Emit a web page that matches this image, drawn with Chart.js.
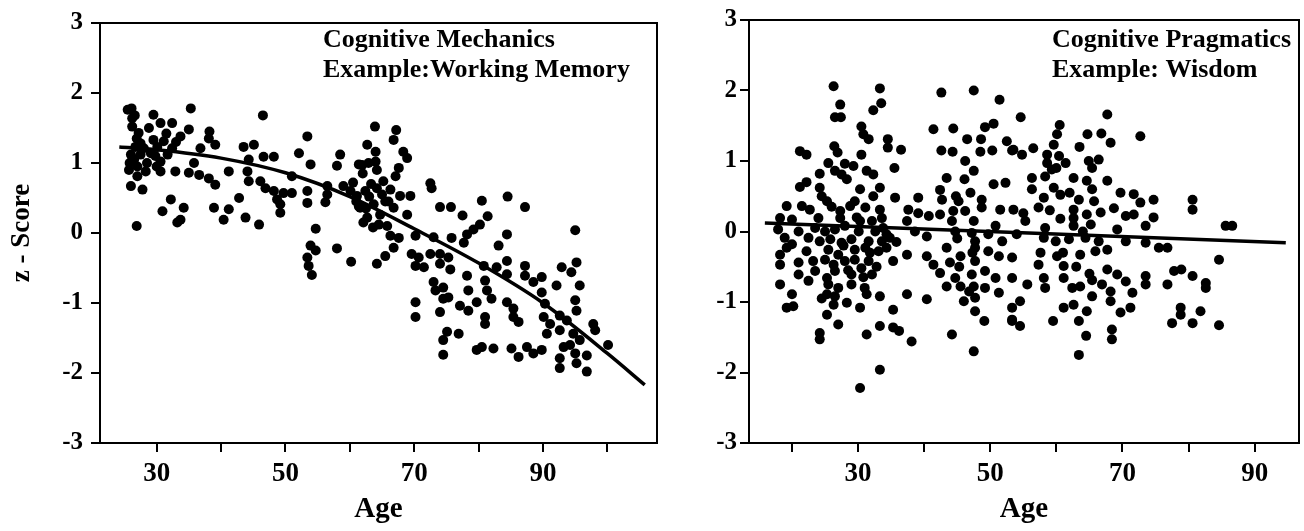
<!DOCTYPE html>
<html>
<head>
<meta charset="utf-8">
<script src="https://cdn.jsdelivr.net/npm/chart.js@4.4.1/dist/chart.umd.min.js"></script>
<style>
  html, body { margin: 0; padding: 0; background: #fff; }
  #wrap { position: relative; width: 1304px; height: 531px; overflow: hidden; }
  .panel { position: absolute; top: 0; height: 531px; }
  #p1 { left: 0; width: 665px; }
  #p2 { left: 665px; width: 639px; }
</style>
</head>
<body>
<div id="wrap">
  <div class="panel" id="p1"><canvas id="mechanics"></canvas></div>
  <div class="panel" id="p2"><canvas id="pragmatics"></canvas></div>
</div>
<script>
// --- Cognitive mechanics (working memory): age / z-score pairs
const mechAge = [
  26.1, 26.6, 29.5, 35.3, 46.5, 30.6, 32.4, 26.2, 28.8, 35.0, 38.2, 33.7, 38.1, 26.9, 53.4, 29.5, 31.1, 39.1, 43.5, 45.1,
  62.7, 26.7, 28.0, 30.1, 32.4, 36.8, 26.0, 27.5, 29.1, 31.7, 52.1, 46.6, 48.2, 58.5, 44.3, 30.6, 35.8, 53.9, 58.0, 61.4,
  62.9, 25.7, 27.0, 30.6, 32.9, 35.0, 36.6, 38.1, 41.2, 44.1, 44.3, 46.1, 51.0, 27.0, 26.0, 27.8, 39.1, 46.9, 48.2, 49.7,
  51.0, 53.4, 56.5, 59.0, 60.1, 61.1, 56.5, 48.7, 32.2, 42.8, 30.9, 34.2, 38.9, 41.2, 49.2, 53.4, 56.2, 61.4, 33.2, 33.7,
  40.4, 43.8, 45.9, 49.2, 54.7, 62.1, 26.9, 53.9, 54.7, 53.4, 53.6, 54.1, 58.0, 60.2, 25.5, 26.2,
  26.5, 27.5, 28.5, 29.8, 31.5, 27.2, 25.8, 28.3, 33.0, 30.0,
  60.5, 62.0, 63.3, 65.0, 66.0, 61.0, 62.5, 64.5, 65.8, 63.0,
  63.9, 67.2, 66.8, 64.0, 68.3, 68.9, 64.0, 64.2, 67.6, 67.1, 61.9, 72.5, 72.7, 65.2, 64.2, 62.4, 66.3, 67.8, 69.4, 65.5,
  63.7, 61.6, 66.8, 74.0, 75.7, 80.5, 84.5, 87.2, 68.9, 62.7, 64.7, 77.5, 81.4, 80.2, 79.2, 78.2, 63.6, 95.0, 84.4, 66.3,
  67.6, 70.2, 73.0, 75.8, 77.7, 83.1, 66.8, 65.5, 64.2, 69.6, 70.7, 72.5, 74.0, 75.3, 74.0, 70.2, 71.5, 75.6, 80.8, 82.8,
  84.4, 84.4, 87.2, 87.2, 88.5, 89.8, 92.9, 95.2, 94.4, 92.1, 95.7, 73.0, 73.3, 74.5, 78.2, 78.4, 81.0, 81.3, 79.7, 82.0,
  84.4, 85.4, 85.4, 86.2, 89.8, 90.3, 95.0, 95.2, 74.5, 75.3, 70.2, 70.2, 74.0, 77.1, 78.4, 81.0, 81.0, 90.1, 91.1, 92.6,
  93.7, 97.8, 98.1, 100.1, 90.6, 92.6, 94.7, 95.7, 75.1, 76.9, 74.5, 74.5, 79.7, 80.5, 82.3, 85.1, 86.2, 87.5, 88.5, 89.8,
  93.2, 92.6, 92.6, 95.0, 95.2, 96.8, 94.2, 96.8
];
const mechScore = [
  1.78, 1.68, 1.69, 1.78, 1.68, 1.57, 1.57, 1.52, 1.50, 1.48, 1.45, 1.38, 1.35, 1.35, 1.38, 1.33, 1.31, 1.26, 1.23, 1.26,
  1.26, 1.23, 1.21, 1.23, 1.21, 1.21, 1.12, 1.12, 1.14, 1.12, 1.14, 1.09, 1.09, 1.12, 1.05, 1.02, 1.00, 0.98, 0.96, 0.98,
  1.00, 0.90, 0.95, 0.88, 0.88, 0.86, 0.83, 0.78, 0.88, 0.88, 0.74, 0.74, 0.81, 0.81, 0.67, 0.62, 0.69, 0.64, 0.60, 0.57,
  0.57, 0.60, 0.67, 0.67, 0.60, 0.53, 0.55, 0.48, 0.48, 0.50, 0.31, 0.36, 0.36, 0.34, 0.41, 0.43, 0.44, 0.38, 0.15, 0.19,
  0.19, 0.22, 0.12, 0.29, 0.06, 0.15, 0.10, -0.18, -0.25, -0.35, -0.47, -0.60, -0.22, -0.41, 1.76, 1.64,
  1.05, 1.28, 1.00, 1.10, 1.42, 1.43, 1.00, 0.88, 1.30, 0.95,
  0.72, 0.85, 0.70, 0.55, 0.45, 0.45, 0.35, 0.12, 0.10, 0.52,
  1.52, 1.47, 1.33, 1.16, 1.16, 1.07, 1.02, 0.90, 0.93, 0.81, 0.97, 0.71, 0.64, 0.74, 0.64, 0.60, 0.62, 0.53, 0.53, 0.45,
  0.41, 0.36, 0.36, 0.37, 0.37, 0.46, 0.52, 0.37, 0.26, 0.22, 0.26, 0.25, 0.24, 0.12, 0.05, -0.02, 0.08, 0.04, -0.02, -0.04,
  -0.07, -0.04, -0.06, -0.07, -0.14, -0.18, -0.21, -0.33, -0.44, -0.30, -0.35, -0.30, -0.30, -0.35, -0.44, -0.47, -0.49, -0.52, -0.47, -0.49,
  -0.40, -0.59, -0.47, -0.61, -0.70, -0.63, -0.49, -0.42, -0.56, -0.75, -0.75, -0.70, -0.82, -0.78, -0.61, -0.82, -0.68, -0.82, -0.99, -0.94,
  -0.99, -1.08, -1.20, -1.27, -0.85, -1.01, -0.96, -1.11, -0.94, -0.92, -0.99, -1.20, -1.13, -1.04, -1.11, -1.20, -1.30, -1.20, -1.30, -1.18,
  -1.25, -1.30, -1.39, -1.60, -1.44, -1.39, -1.44, -1.53, -1.41, -1.44, -1.53, -1.74, -1.67, -1.63, -1.65, -1.65, -1.77, -1.63, -1.72, -1.67,
  -1.63, -1.79, -1.93, -1.72, -1.86, -1.98, -1.60, -1.75
];
// fitted curve, read at these ages
const mechFitAge = [24.2, 30, 40, 50, 60, 70, 80, 90, 100, 105.8];
const mechFitScore = [1.23, 1.19, 1.07, 0.86, 0.52, 0.06, -0.43, -1.0, -1.72, -2.17];

// --- Cognitive pragmatics (wisdom)
const pragAge = [
  26.3, 33.3, 42.6, 47.5, 51.4, 27.3, 33.5, 32.3, 26.5, 27.4, 30.5, 30.8, 31.6, 41.4, 44.4, 49.2, 50.5, 34.5, 34.5, 36.5,
  46.5, 48.6, 52.5, 21.2, 22.2, 26.4, 26.9, 30.5, 42.6, 44.3, 48.5, 50.3, 53.3, 25.5, 28.0, 29.3, 26.5, 27.5, 31.3, 32.3,
  35.5, 46.2, 47.5, 24.2, 43.4, 46.1, 21.2, 22.2, 24.2, 28.3, 30.3, 33.3, 24.5, 25.3, 29.5, 32.3, 35.6, 39.1, 42.4, 42.7,
  45.2, 48.7, 50.5, 52.3, 19.2, 21.5, 22.7, 27.3, 28.8, 31.1, 33.3, 37.6, 39.1, 40.7, 42.4, 44.4, 46.2, 48.7, 51.5, 18.2,
  20.0, 24.0, 27.3, 30.3, 32.1, 33.6, 37.4, 44.2, 47.5, 50.8, 17.9, 21.0, 25.0, 26.5, 28.0, 30.1, 32.6, 34.3, 38.6, 40.4,
  44.7, 47.2, 49.7, 18.9, 20.0, 22.5, 24.2, 25.8, 27.5, 29.0, 31.6, 33.6, 34.8, 47.7, 51.8, 18.2, 19.2, 22.2, 25.5, 27.0,
  29.5, 31.1, 33.1, 34.3, 37.4, 40.4, 43.4, 45.5, 47.7, 49.7, 18.2, 21.0, 23.2, 26.3, 28.0, 29.5, 31.6, 35.3, 41.4, 43.9,
  47.7, 51.3, 21.0, 23.5, 25.3, 26.5, 29.0, 30.5, 32.1, 42.4, 44.7, 47.2, 49.2, 50.8, 18.2, 25.5, 27.0, 29.0, 31.0, 43.4,
  45.5, 47.5, 49.2, 20.0, 25.3, 26.5, 28.3, 31.3, 33.3, 37.4, 40.4, 46.0, 47.7, 51.3, 19.2, 26.3, 25.3, 30.3, 35.3, 47.7,
  53.3, 27.0, 24.2, 24.2, 31.3, 33.3, 35.3, 36.2, 38.1, 44.2, 49.1, 53.3, 47.5, 33.3, 30.3, 20.2,
  23.5, 25.0, 27.8, 29.8, 31.8, 33.8, 26.0, 28.5, 30.8, 22.5, 24.5, 32.8, 35.8,
  44.8, 45.0, 45.3, 47.0, 47.3, 46.8,
  59.0, 61.0, 62.0, 63.0, 64.0, 65.0, 60.0,
  54.6, 67.7, 60.5, 64.7, 66.8, 72.7, 60.1, 68.2, 59.6, 53.5, 54.8, 56.5, 63.5, 58.6, 60.4, 64.9, 66.4, 58.6, 61.4, 65.4,
  59.3, 58.3, 56.3, 62.6, 64.6, 67.7, 56.3, 59.6, 65.4, 69.7, 60.6, 71.7, 58.1, 63.4, 65.7, 74.7, 80.6, 80.6, 72.7, 57.3,
  62.6, 68.7, 53.5, 55.0, 55.3, 60.6, 62.6, 64.6, 66.7, 70.5, 71.7, 74.7, 85.6, 86.6, 58.3, 62.6, 65.2, 69.2, 73.5, 54.0,
  58.1, 59.9, 61.9, 64.4, 66.4, 70.5, 73.5, 75.5, 76.8, 57.6, 60.1, 63.6, 65.9, 67.7, 53.3, 84.6, 57.3, 61.1, 67.7, 77.8,
  78.9, 80.6, 82.6, 82.6, 53.3, 55.6, 58.1, 61.1, 62.4, 65.4, 66.9, 69.2, 70.5, 73.5, 73.5, 76.8, 58.3, 63.6, 68.2, 71.5,
  65.4, 54.5, 61.1, 62.6, 64.6, 68.2, 69.7, 71.2, 78.8, 78.8, 81.8, 53.3, 54.5, 59.5, 63.4, 64.5, 68.4, 68.4, 77.5, 80.6,
  84.6, 63.4
];
const pragScore = [
  2.06, 2.03, 1.97, 2.00, 1.87, 1.80, 1.82, 1.72, 1.62, 1.62, 1.49, 1.38, 1.31, 1.45, 1.46, 1.48, 1.53, 1.31, 1.19, 1.16,
  1.31, 1.31, 1.28, 1.14, 1.09, 1.21, 1.12, 1.09, 1.15, 1.13, 1.13, 1.15, 1.15, 0.97, 0.96, 0.93, 0.86, 0.81, 0.86, 0.81,
  0.90, 1.00, 0.86, 0.82, 0.76, 0.74, 0.63, 0.70, 0.62, 0.74, 0.60, 0.62, 0.50, 0.43, 0.43, 0.50, 0.48, 0.48, 0.59, 0.45,
  0.43, 0.45, 0.67, 0.69, 0.36, 0.36, 0.31, 0.29, 0.36, 0.34, 0.31, 0.31, 0.26, 0.22, 0.24, 0.29, 0.29, 0.34, 0.31, 0.19,
  0.17, 0.19, 0.19, 0.15, 0.15, 0.19, 0.15, 0.15, 0.15, 0.08, 0.03, 0.00, 0.00, 0.03, 0.08, 0.00, 0.00, -0.04, 0.00, -0.07,
  0.00, -0.02, -0.04, -0.09, -0.18, -0.09, -0.14, -0.11, -0.16, -0.11, -0.14, -0.14, -0.09, -0.14, -0.14, -0.33, -0.23, -0.28, -0.26, -0.33,
  -0.26, -0.23, -0.28, -0.23, -0.33, -0.35, -0.23, -0.35, -0.23, -0.28, -0.47, -0.44, -0.42, -0.47, -0.42, -0.40, -0.42, -0.42, -0.47, -0.44,
  -0.42, -0.35, -0.61, -0.56, -0.66, -0.56, -0.61, -0.52, -0.61, -0.59, -0.66, -0.61, -0.56, -0.66, -0.75, -0.75, -0.80, -0.75, -0.80, -0.78,
  -0.78, -0.78, -0.80, -0.89, -0.89, -0.92, -1.01, -0.89, -0.92, -0.89, -0.96, -0.99, -0.94, -0.87, -1.08, -1.04, -1.18, -1.08, -1.11, -1.13,
  -1.08, -1.32, -1.44, -1.53, -1.46, -1.34, -1.36, -1.41, -1.56, -1.46, -1.27, -1.27, -1.70, -1.96, -2.22, -1.06,
  0.05, -0.40, -0.20, 0.20, -0.30, 0.05, 0.35, -0.55, -0.65, -0.70, -0.95, -0.50, -0.15,
  0.50, -0.10, -0.50, 0.55, -0.30, -0.85,
  0.30, -0.30, 0.55, -0.50, 0.00, -0.60, 0.90,
  1.62, 1.66, 1.51, 1.38, 1.39, 1.35, 1.38, 1.26, 1.23, 1.16, 1.09, 1.18, 1.20, 1.09, 1.07, 1.00, 1.02, 0.97, 0.97, 0.90,
  0.88, 0.78, 0.76, 0.76, 0.72, 0.72, 0.60, 0.62, 0.60, 0.55, 0.52, 0.53, 0.48, 0.45, 0.43, 0.45, 0.45, 0.31, 0.41, 0.34,
  0.31, 0.33, 0.31, 0.26, 0.15, 0.18, 0.19, 0.24, 0.27, 0.22, 0.24, 0.20, 0.08, 0.08, 0.05, 0.08, 0.10, 0.03, 0.08, -0.04,
  -0.09, -0.14, -0.11, -0.09, -0.14, -0.14, -0.16, -0.23, -0.23, -0.30, -0.35, -0.33, -0.28, -0.26, -0.37, -0.40, -0.47, -0.49, -0.54, -0.56,
  -0.54, -0.63, -0.73, -0.80, -0.66, -0.75, -0.66, -0.66, -0.80, -0.69, -0.75, -0.61, -0.71, -0.63, -0.75, -0.75, -0.80, -0.78, -0.85, -0.87,
  -0.92, -0.99, -1.08, -1.04, -1.13, -0.99, -1.15, -1.08, -1.08, -1.18, -1.13, -1.25, -1.34, -1.27, -1.27, -1.48, -1.39, -1.53, -1.30, -1.30,
  -1.33, -1.75
];
const pragFitAge = [15.9, 94.7];
const pragFitScore = [0.12, -0.16];

// axis ticks
const yTicks = [-3, -2, -1, 0, 1, 2, 3];
const mechAgeTicks = [30, 40, 50, 60, 70, 80, 90, 100];
const pragAgeTicks = [20, 30, 40, 50, 60, 70, 80, 90];
const labelledAges = [30, 50, 70, 90];

const SERIF = "'Liberation Serif', 'Times New Roman', serif";

// box round the plot area + the label in its upper right corner
const frameAndNote = {
  id: 'frameAndNote',
  afterDraw(chart) {
    const a = chart.chartArea, ctx = chart.ctx;
    const note = chart.options.plugins.frameAndNote;
    ctx.save();
    ctx.strokeStyle = '#000';
    ctx.lineWidth = 2;
    ctx.strokeRect(a.left, a.top, a.right - a.left, a.bottom - a.top);
    ctx.fillStyle = '#000';
    ctx.font = 'bold 26px ' + SERIF;
    ctx.textBaseline = 'alphabetic';
    note.lines.forEach((t, i) => ctx.fillText(t, note.x, note.y + i * 30));
    ctx.restore();
  }
};

const pairs = (xs, ys) => xs.map((x, i) => ({ x: x, y: ys[i] }));

function drawPanel(id, opt) {
  return new Chart(document.getElementById(id), {
    type: 'scatter',
    data: {
      datasets: [
        {
          data: pairs(opt.ages, opt.scores),
          pointRadius: 5,
          pointHoverRadius: 5,
          backgroundColor: '#000',
          borderWidth: 0
        },
        {
          data: pairs(opt.fitAges, opt.fitScores),
          showLine: true,
          borderColor: '#000',
          borderWidth: 3.5,
          pointRadius: 0,
          cubicInterpolationMode: 'monotone'
        }
      ]
    },
    options: {
      responsive: true,
      maintainAspectRatio: false,
      animation: false,
      layout: { padding: { top: opt.padTop, right: opt.padRight, left: 0, bottom: 0 } },
      plugins: {
        legend: { display: false },
        tooltip: { enabled: false },
        frameAndNote: { lines: opt.note, x: opt.noteX, y: 47 }
      },
      scales: {
        x: {
          type: 'linear',
          min: opt.xMin,
          max: opt.xMax,
          afterFit: s => { s.height = 88; },
          afterBuildTicks: s => { s.ticks = opt.xTicks.map(v => ({ value: v })); },
          border: { display: false },
          grid: { drawOnChartArea: false, drawTicks: true, tickLength: 9, color: '#000', lineWidth: 2 },
          ticks: {
            autoSkip: false,
            maxRotation: 0,
            padding: 6,
            color: '#000',
            font: { family: SERIF, size: 27, weight: 'bold' },
            callback: v => labelledAges.includes(v) ? String(v) : ''
          },
          title: {
            display: true,
            text: 'Age',
            color: '#000',
            font: { family: SERIF, size: 29, weight: 'bold' },
            padding: { top: 0, bottom: 4 }
          }
        },
        y: {
          min: -3,
          max: 3,
          afterFit: s => { s.width = opt.yWidth; },
          afterBuildTicks: s => { s.ticks = yTicks.map(v => ({ value: v })); },
          border: { display: false },
          grid: { drawOnChartArea: false, drawTicks: true, tickLength: 9, color: '#000', lineWidth: 2 },
          ticks: {
            padding: opt.yLabelPad,
            color: '#000',
            font: { family: SERIF, size: 25, weight: 'bold' },
            callback: v => String(v)
          },
          title: {
            display: opt.yTitle,
            text: 'z - Score',
            color: '#000',
            font: { family: SERIF, size: 27, weight: 'bold' },
            padding: { top: 6, bottom: 0 }
          }
        }
      }
    },
    plugins: [frameAndNote]
  });
}

drawPanel('mechanics', {
  ages: mechAge, scores: mechScore, fitAges: mechFitAge, fitScores: mechFitScore,
  xMin: 21.2, xMax: 107.7, xTicks: mechAgeTicks,
  yWidth: 100, yLabelPad: 8, yTitle: true, padTop: 19, padRight: 8,
  note: ['Cognitive Mechanics', 'Example:Working Memory'], noteX: 323
});

drawPanel('pragmatics', {
  ages: pragAge, scores: pragScore, fitAges: pragFitAge, fitScores: pragFitScore,
  xMin: 13.5, xMax: 96.7, xTicks: pragAgeTicks,
  yWidth: 84, yLabelPad: 3, yTitle: false, padTop: 20, padRight: 3,
  note: ['Cognitive Pragmatics', 'Example: Wisdom'], noteX: 387
});
</script>
</body>
</html>
